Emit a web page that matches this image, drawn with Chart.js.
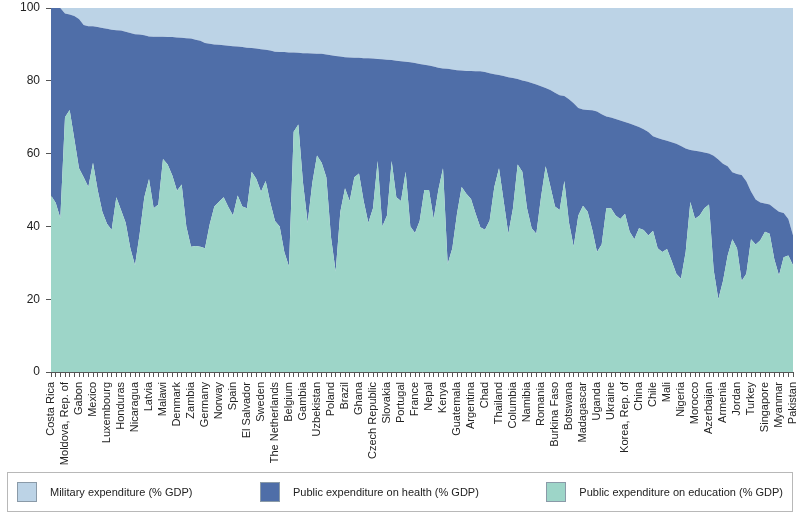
<!DOCTYPE html>
<html>
<head>
<meta charset="utf-8">
<script src="https://cdn.jsdelivr.net/npm/chart.js@4/dist/chart.umd.min.js"></script>
<style>
  body { margin: 0; background: #fff; font-family: "Liberation Sans", Arial, sans-serif; }
  #wrap { position: relative; width: 800px; height: 520px; }
  #legend {
    position: absolute; left: 7px; top: 472px; width: 786px; height: 40px;
    border: 1px solid #b8b8b8; box-sizing: border-box;
    display: flex; align-items: center; justify-content: space-between;
    padding: 0 9px 0 9px; font-size: 11px; color: #222;
  }
  .item { display: flex; align-items: center; }
  .swatch { width: 20px; height: 20px; border: 1px solid #8a9aa8; box-sizing: border-box; margin-right: 13px; }
</style>
</head>
<body>
<div id="wrap">
  <canvas id="chart" width="800" height="520"></canvas>
  <div id="legend"></div>
</div>
<script>
// every third country carries a label on the axis; the others are unlabeled
const labeledCountries = ['Costa Rica', 'Moldova, Rep. of', 'Gabon', 'Mexico', 'Luxembourg', 'Honduras',
  'Nicaragua', 'Latvia', 'Malawi', 'Denmark', 'Zambia', 'Germany', 'Norway', 'Spain', 'El Salvador',
  'Sweden', 'The Netherlands', 'Belgium', 'Gambia', 'Uzbekistan', 'Poland', 'Brazil', 'Ghana',
  'Czech Republic', 'Slovakia', 'Portugal', 'France', 'Nepal', 'Kenya', 'Guatemala', 'Argentina',
  'Chad', 'Thailand', 'Columbia', 'Namibia', 'Romania', 'Burkina Faso', 'Botswana', 'Madagascar',
  'Uganda', 'Ukraine', 'Korea, Rep. of', 'China', 'Chile', 'Mali', 'Nigeria', 'Morocco', 'Azerbaijan',
  'Armenia', 'Jordan', 'Turkey', 'Singapore', 'Myanmar', 'Pakistan'];

// shares of the three expenditures (% of their sum)
const education = [48.5, 46.5, 42.3, 70, 72, 64, 56, 53.5, 50.8, 57.5, 50, 44, 40.7, 39, 48, 44.5, 41, 34, 29.3, 38,
  48, 53, 45, 46, 58.5, 57, 54, 49.8, 51.5, 40, 34.4, 34.6, 34.4, 34, 40.5, 45.5, 46.8, 48, 45.3, 43,
  48.5, 45.5, 45, 55, 53, 49.5, 52.5, 46.5, 41.5, 40, 33, 29, 66, 68, 52, 41, 52, 59.5, 57.5, 53.5,
  37, 27.6, 44, 50.5, 47, 53.5, 54.5, 47, 41, 45, 58, 40, 43, 58, 48, 47, 55, 40, 38.2, 41.5,
  50, 50, 42, 50, 56, 29.7, 34, 43.5, 50.8, 49, 47.5, 43.5, 39.8, 39.1, 41.6, 50.8, 56, 47, 38, 45,
  57, 55, 45, 39.5, 38, 48, 56.5, 51, 45.5, 44.5, 52.5, 41, 34.5, 43, 45.7, 44, 39, 33, 35, 45,
  45, 43, 42, 43.5, 38.5, 36.5, 39.5, 39, 37.5, 38.8, 34, 33, 33.8, 30.5, 27, 25.6, 33, 46.7, 42.1, 43,
  45, 46, 28, 20, 25, 32, 36.5, 34, 25, 27, 36.5, 35, 36.2, 38.5, 38, 31, 26.5, 31.5, 32, 29.3];

const health = [51.5, 53.5, 57.7, 28.5, 26.2, 33.8, 41, 41.8, 44.2, 37.5, 44.8, 50.5, 53.6, 55, 45.9, 49.3, 52.5, 59.1, 63.5, 54.7,
  44.5, 39.2, 47.1, 46.1, 33.6, 35, 38, 42.1, 40.3, 51.7, 57.2, 56.7, 56.6, 56.4, 49.7, 44.5, 43.1, 41.8, 44.3, 46.5,
  40.9, 43.8, 44.1, 34, 35.9, 39.2, 36, 41.8, 46.5, 47.9, 54.9, 58.8, 21.8, 19.7, 35.6, 46.6, 35.5, 27.9, 29.9, 33.7,
  50, 59.2, 42.7, 36, 39.4, 32.8, 31.8, 39.2, 45.2, 41.1, 28, 45.9, 42.8, 27.7, 37.5, 38.4, 30.2, 45.1, 46.7, 43.1,
  34.4, 34.2, 41.9, 33.6, 27.4, 53.6, 49.1, 39.4, 32, 33.7, 35.2, 39.1, 42.8, 43.3, 40.5, 31, 25.6, 34.3, 43, 35.8,
  23.5, 25.1, 34.8, 39.9, 41, 30.5, 21.5, 26.5, 31.2, 31.5, 23.3, 33.9, 39.3, 29.5, 26.4, 28, 32.9, 38.6, 35.8, 25.2,
  24.9, 26.5, 27.1, 25.2, 29.8, 31.3, 27.8, 27.7, 28.4, 26, 30.3, 30.9, 29.7, 32.6, 35.7, 36.5, 28.4, 14.3, 18.7, 17.6,
  15.3, 14, 31.4, 38.4, 32.2, 24.5, 18.4, 20.4, 29.1, 25.4, 13.1, 12.4, 10.4, 7.8, 8, 14, 17.5, 12.2, 10, 8.3];

const military = [0, 0, 0, 1.5, 1.8, 2.2, 3, 4.7, 5, 5, 5.2, 5.5, 5.7, 6, 6.1, 6.2, 6.5, 6.9, 7.2, 7.3,
  7.5, 7.8, 7.9, 7.9, 7.9, 8, 8, 8.1, 8.2, 8.3, 8.4, 8.7, 9, 9.6, 9.8, 10, 10.1, 10.2, 10.4, 10.5,
  10.6, 10.7, 10.9, 11, 11.1, 11.3, 11.5, 11.7, 12, 12.1, 12.1, 12.2, 12.2, 12.3, 12.4, 12.4, 12.5, 12.6, 12.6, 12.8,
  13, 13.2, 13.3, 13.5, 13.6, 13.7, 13.7, 13.8, 13.8, 13.9, 14, 14.1, 14.2, 14.3, 14.5, 14.6, 14.8, 14.9, 15.1, 15.4,
  15.6, 15.8, 16.1, 16.4, 16.6, 16.7, 16.9, 17.1, 17.2, 17.3, 17.3, 17.4, 17.4, 17.6, 17.9, 18.2, 18.4, 18.7, 19, 19.2,
  19.5, 19.9, 20.2, 20.6, 21, 21.5, 22, 22.5, 23.3, 24, 24.2, 25.1, 26.2, 27.5, 27.9, 28, 28.1, 28.4, 29.2, 29.8,
  30.1, 30.5, 30.9, 31.3, 31.7, 32.2, 32.7, 33.3, 34.1, 35.2, 35.7, 36.1, 36.5, 36.9, 37.3, 37.9, 38.6, 39, 39.2, 39.4,
  39.7, 40, 40.6, 41.6, 42.8, 43.5, 45.1, 45.6, 45.9, 47.6, 50.4, 52.6, 53.4, 53.7, 54, 55, 56, 56.3, 58, 62.4];

const yTicks = [0, 20, 40, 60, 80, 100];

const categories = [];
for (let i = 0; i < education.length; i++) {
    categories.push(i % 3 === 0 ? labeledCountries[i / 3] : '');
}

const font = { family: '"Liberation Sans", Arial, sans-serif', size: 11 };

const chart = new Chart(document.getElementById('chart'), {
    type: 'line',
    data: {
        labels: categories,
        datasets: [
            { label: 'Public expenditure on education (% GDP)', data: education,
              backgroundColor: '#9dd5c8', fill: 'origin' },
            { label: 'Public expenditure on health (% GDP)', data: health,
              backgroundColor: '#4f6ea8', fill: '-1' },
            { label: 'Military expenditure (% GDP)', data: military,
              backgroundColor: '#bcd3e6', fill: '-1' }
        ].map(d => Object.assign(d, { borderWidth: 0, pointRadius: 0, tension: 0, borderColor: d.backgroundColor }))
    },
    options: {
        responsive: false,
        animation: false,
        layout: { padding: { top: 8, right: 7, left: 0, bottom: 50 } },
        plugins: {
            legend: { display: false },
            tooltip: { enabled: false }
        },
        scales: {
            x: {
                offset: false,
                grid: { drawOnChartArea: false, tickLength: 5, color: '#555' },
                border: { color: '#555' },
                ticks: {
                    autoSkip: false, maxRotation: 90, minRotation: 90, padding: 5,
                    color: '#222', font: font
                },
                afterFit: s => { s.height = 98; s.paddingLeft = 0; s.paddingRight = 0; }
            },
            y: {
                stacked: true,
                min: 0, max: 100,
                afterBuildTicks: s => { s.ticks = yTicks.map(v => ({ value: v })); },
                grid: { drawOnChartArea: false, tickLength: 5, color: '#555' },
                border: { color: '#555' },
                ticks: { color: '#222', font: { family: font.family, size: 12 }, padding: 6 },
                afterFit: s => { s.width = 51; s.paddingTop = 0; s.paddingBottom = 0; }
            }
        }
    }
});

// legend box below the chart, in the original's order
const legend = document.getElementById('legend');
chart.data.datasets.slice().reverse().forEach(ds => {
    const item = document.createElement('div');
    item.className = 'item';
    item.innerHTML = '<span class="swatch" style="background:' + ds.backgroundColor + '"></span>' + ds.label;
    legend.appendChild(item);
});
</script>
</body>
</html>
